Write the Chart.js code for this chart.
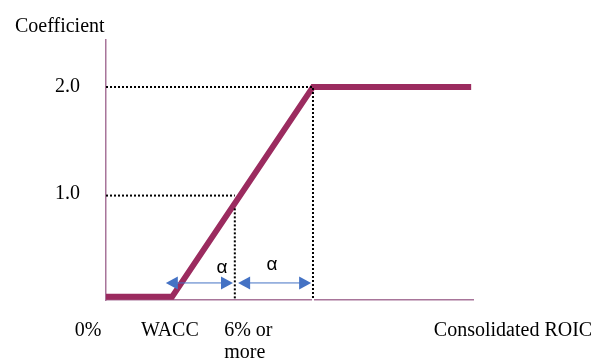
<!DOCTYPE html>
<html>
<head>
<meta charset="utf-8">
<script src="https://cdn.jsdelivr.net/npm/chart.js@4.4.1/dist/chart.umd.min.js"></script>
<style>
  html,body{margin:0;padding:0;background:#fff}
  #wrap{width:600px;height:364px}
</style>
</head>
<body>
<div id="wrap"><canvas id="c" width="600" height="364"></canvas></div>
<script>
// coefficient curve (x in relative ROIC units 0..100, y = coefficient)
const curveX = [0, 18, 56.4, 99.5]
const curveY = [0.03, 0.03, 2, 2]
// dotted guide lines
const guide2X = [0, 56.4, 56.4]
const guide2Y = [2, 2, 0]
const guide1X = [0, 35.1]
const guide1Y = [0.98, 0.98]
const guideVX = [35.1, 35.1]
const guideVY = [0.86, 0]
// y ticks
const yTicks = [1, 2]
const yTickLabels = ['1.0', '2.0']
// x labels under the axis
const xLabels = ['0%', 'WACC', ['6% or', 'more'], 'Consolidated ROIC']
const xLabelPos = [-4.9, 17.4, 32.2, 110.9]
const xLabelAlign = ['center', 'center', 'left', 'center']
// alpha spans
const arrowFrom = [16.3, 36.0]
const arrowTo = [34.6, 55.9]
const arrowY = 0.16
const alphaPos = [31.6, 45.2]
const alphaY = [0.3, 0.33]

const pts = (xs, ys) => xs.map((x,i)=>({x, y:ys[i]}))
const SERIF = '"Liberation Serif", "Times New Roman", serif'
const dotted = {showLine:true, borderColor:'#000', borderWidth:2, borderDash:[2,2], pointRadius:0, fill:false}

const extras = {
  id:'extras',
  afterDraw(chart){
    const ctx = chart.ctx
    const xs = chart.scales.x, ys = chart.scales.y
    ctx.save()
    // little gap in the x axis under the 2.0 drop line
    ctx.fillStyle = '#fff'
    ctx.fillRect(xs.getPixelForValue(56.4)-1, ys.bottom-2, 2, 4)
    // title
    ctx.fillStyle = '#000'
    ctx.font = '20px ' + SERIF
    ctx.textAlign = 'left'
    ctx.textBaseline = 'alphabetic'
    ctx.fillText('Coefficient', 15, 32)
    // x labels
    xLabels.forEach((l,i)=>{
      const lines = Array.isArray(l) ? l : [l]
      ctx.textAlign = xLabelAlign[i]
      lines.forEach((t,j)=>ctx.fillText(t, xs.getPixelForValue(xLabelPos[i]), 336 + j*22))
    })
    // arrows
    const ay = ys.getPixelForValue(arrowY)
    ctx.strokeStyle = '#4472C4'
    ctx.fillStyle = '#4472C4'
    ctx.lineWidth = 1
    arrowFrom.forEach((f,i)=>{
      const x1 = xs.getPixelForValue(f), x2 = xs.getPixelForValue(arrowTo[i])
      ctx.beginPath(); ctx.moveTo(x1+8, ay); ctx.lineTo(x2-8, ay); ctx.stroke()
      ctx.beginPath(); ctx.moveTo(x1, ay); ctx.lineTo(x1+12, ay-6.5); ctx.lineTo(x1+12, ay+6.5); ctx.closePath(); ctx.fill()
      ctx.beginPath(); ctx.moveTo(x2, ay); ctx.lineTo(x2-12, ay-6.5); ctx.lineTo(x2-12, ay+6.5); ctx.closePath(); ctx.fill()
    })
    // alpha labels
    ctx.fillStyle = '#000'
    ctx.font = '19px "Liberation Sans", Arial, sans-serif'
    ctx.textAlign = 'center'
    ctx.textBaseline = 'middle'
    alphaPos.forEach((p,i)=>ctx.fillText('α', xs.getPixelForValue(p), ys.getPixelForValue(alphaY[i])))
    ctx.restore()
  }
}

new Chart(document.getElementById('c'), {
  type:'scatter',
  data:{datasets:[
    Object.assign({data:pts(guide2X, guide2Y)}, dotted),
    Object.assign({data:pts(guide1X, guide1Y)}, dotted),
    Object.assign({data:pts(guideVX, guideVY)}, dotted),
    {data:pts(curveX, curveY), showLine:true, borderColor:'#9B2B5F', borderWidth:6, borderJoinStyle:'miter', borderCapStyle:'butt', pointRadius:0, fill:false}
  ]},
  options:{
    responsive:false,
    animation:false,
    layout:{padding:{left:0, top:40, right:127, bottom:64}},
    plugins:{legend:{display:false}, tooltip:{enabled:false}},
    scales:{
      x:{
        type:'linear', min:0, max:100,
        grid:{display:false, drawTicks:false},
        border:{display:true, color:'#A8759A', width:1.5},
        ticks:{display:false}
      },
      y:{
        type:'linear', min:0, max:2.44,
        grid:{display:false, drawTicks:false},
        border:{display:true, color:'#A8759A', width:1.5},
        afterBuildTicks: s => { s.ticks = yTicks.map(v=>({value:v})) },
        afterFit: s => { s.width = 106 },
        ticks:{
          color:'#000', padding:26,
          font:{family:SERIF, size:20},
          callback: v => yTickLabels[yTicks.indexOf(v)]
        }
      }
    }
  },
  plugins:[extras]
})
</script>
</body>
</html>
